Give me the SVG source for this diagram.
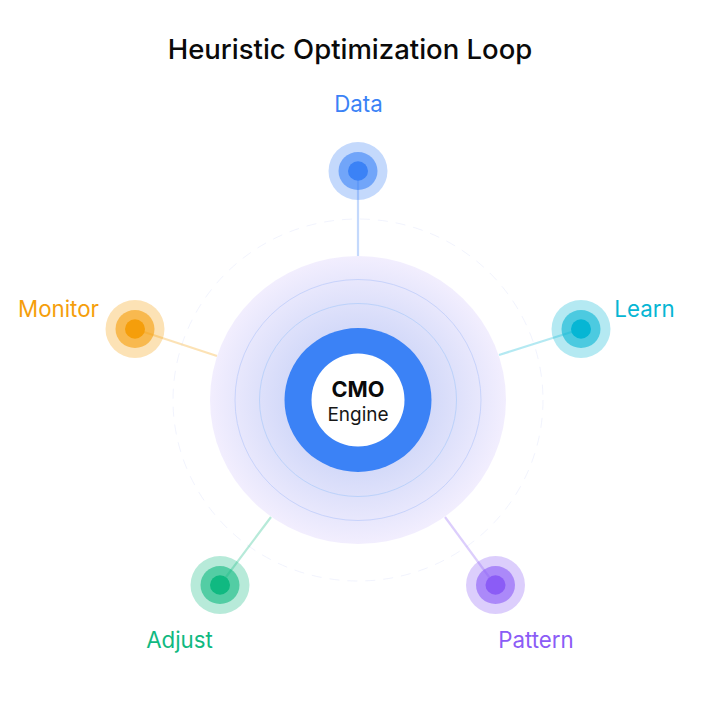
<svg xmlns="http://www.w3.org/2000/svg" width="726" height="726" viewBox="0 0 726 726">
<style>
text{font-family:Inter,"Liberation Sans",sans-serif}
.title{font-size:27.500px;font-weight:500;fill:#0a0a0a;text-anchor:middle}
.lab{font-size:22.300px;font-weight:400;text-anchor:middle}
.c{stroke-width:2.2;stroke-opacity:.3;fill:none}
.halo{opacity:.3}.mid{opacity:.6}
</style>
<defs>
<radialGradient id="g" cx=".5" cy=".5" r=".5">
<stop offset="0" stop-color="#bccdf9"/><stop offset=".5" stop-color="#d4daf9"/><stop offset="1" stop-color="#f2eefe"/>
</radialGradient>
</defs>
<rect width="726" height="726" fill="#fff"/>
<text class="title" x="350" y="59">Heuristic Optimization Loop</text>
<ellipse cx="358" cy="400" rx="185" ry="181" fill="none" stroke="#e6e9fb" stroke-width="1" stroke-dasharray="10 8" opacity=".55"/>
<g id="connectors">
<line class="c" x1="358" y1="171" x2="358" y2="256" stroke="#3b82f6"/>
<line class="c" x1="581" y1="329" x2="499" y2="355" stroke="#06b6d4"/>
<line class="c" x1="495" y1="585" x2="445" y2="517" stroke="#8b5cf6"/>
<line class="c" x1="220" y1="585" x2="271" y2="517" stroke="#10b981"/>
<line class="c" x1="135" y1="329" x2="217" y2="356" stroke="#f59e0b"/>
</g>
<g id="engine">
<ellipse cx="358" cy="400" rx="148" ry="144" fill="url(#g)"/>
<ellipse cx="358" cy="400" rx="123" ry="120.500" fill="none" stroke="#c8d3fb" stroke-width="1"/>
<ellipse cx="358" cy="400" rx="98.500" ry="96.500" fill="none" stroke="#bcd2fa" stroke-width="1"/>
<ellipse cx="358" cy="400" rx="73.500" ry="72" fill="#3b82f6"/>
<ellipse cx="358" cy="400" rx="46.500" ry="46.500" fill="#fff"/>
<text x="358" y="397" font-size="21.700" font-weight="700" fill="#0a0a0a" text-anchor="middle">CMO</text>
<text x="358" y="421" font-size="19" font-weight="400" fill="#171717" text-anchor="middle">Engine</text>
</g>
<g id="data" fill="#3b82f6">
<ellipse class="halo" cx="358" cy="171" rx="29.500" ry="29"/><ellipse class="mid" cx="358" cy="171" rx="19.500" ry="19"/><ellipse cx="358" cy="171" rx="10" ry="9.700"/>
<text class="lab" x="358.500" y="112">Data</text>
</g>
<g id="learn" fill="#06b6d4">
<ellipse class="halo" cx="581" cy="329" rx="29.500" ry="29"/><ellipse class="mid" cx="581" cy="329" rx="19.500" ry="19"/><ellipse cx="581" cy="329" rx="10" ry="9.700"/>
<text class="lab" x="644.500" y="317">Learn</text>
</g>
<g id="pattern" fill="#8b5cf6">
<ellipse class="halo" cx="495.500" cy="585" rx="29.500" ry="29"/><ellipse class="mid" cx="495.500" cy="585" rx="19.500" ry="19"/><ellipse cx="495.500" cy="585" rx="10" ry="9.700"/>
<text class="lab" x="536" y="648">Pattern</text>
</g>
<g id="adjust" fill="#10b981">
<ellipse class="halo" cx="220" cy="585" rx="29.500" ry="29"/><ellipse class="mid" cx="220" cy="585" rx="19.500" ry="19"/><ellipse cx="220" cy="585" rx="10" ry="9.700"/>
<text class="lab" x="179.500" y="648">Adjust</text>
</g>
<g id="monitor" fill="#f59e0b">
<ellipse class="halo" cx="135" cy="329" rx="29.500" ry="29"/><ellipse class="mid" cx="135" cy="329" rx="19.500" ry="19"/><ellipse cx="135" cy="329" rx="10" ry="9.700"/>
<text class="lab" x="58.500" y="317">Monitor</text>
</g>
</svg>
